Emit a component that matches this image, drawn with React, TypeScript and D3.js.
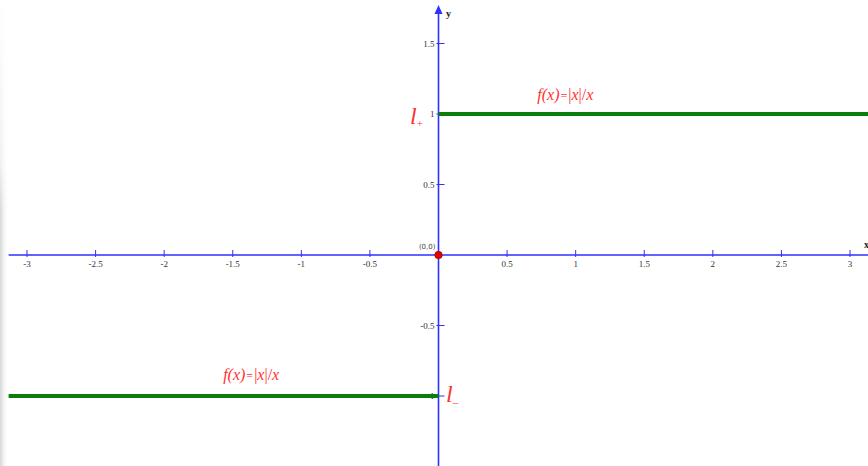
import React from "react";
import * as d3 from "d3";

const W = 868;
const H = 466;

// Axis ticks
const xTicks = [-3, -2.5, -2, -1.5, -1, -0.5, 0.5, 1, 1.5, 2, 2.5, 3];
const yTicks = [1.5, 1, 0.5, -0.5, -1];

// Visible window of the plane
const xDomain = [-3.134, 3.134];

// f(x) = |x|/x : two constant pieces
const pieceStart = [-3.134, 0];
const pieceEnd = [0, 3.134];
const pieceValue = [-1, 1];

// Annotations
const formulaX = [0.72, -1.57];
const formulaY = [1.1, -0.89];

const fmt = (v: number) => String(v);

export default function App() {
  const x = d3.scaleLinear().domain([-3, 3]).range([27, 850]);
  const y = d3.scaleLinear().domain([-1, 1]).range([396, 114]);
  const x0 = x(0);
  const y0 = y(0);
  const blue = "#2f2fff";
  const green = "#0a7d0a";
  const red = "#ff3030";
  const serif = "'Liberation Serif', 'DejaVu Serif', serif";

  const line = d3
    .line<[number, number]>()
    .x((d) => x(d[0]))
    .y((d) => y(d[1]));

  return (
    <svg
      width={W}
      height={H}
      style={{ position: "absolute", left: 0, top: 0, background: "#fff" }}
    >
      <defs>
        <linearGradient id="edge" x1="0" x2="1" y1="0" y2="0">
          <stop offset="0" stopColor="#d4d6d6" />
          <stop offset="1" stopColor="#ffffff" stopOpacity="0" />
        </linearGradient>
        <linearGradient id="edgeV" x1="0" x2="0" y1="0" y2="1">
          <stop offset="0" stopColor="#fff" stopOpacity="1" />
          <stop offset="0.35" stopColor="#fff" stopOpacity="0.6" />
          <stop offset="0.45" stopColor="#fff" stopOpacity="0" />
          <stop offset="1" stopColor="#fff" stopOpacity="0" />
        </linearGradient>
      </defs>
      <rect x={0} y={0} width={W} height={H} fill="#fff" />
      <rect x={0} y={0} width={9} height={H} fill="url(#edge)" />
      <rect x={0} y={0} width={9} height={H} fill="url(#edgeV)" />

      {/* x axis */}
      <line x1={x(xDomain[0])} x2={W} y1={y0} y2={y0} stroke={blue} strokeWidth={1.6} />
      {xTicks.map((t) => (
        <g key={"xt" + t}>
          <line x1={x(t)} x2={x(t)} y1={y0 - 5} y2={y0 + 2} stroke={blue} strokeWidth={1} />
          <text
            x={x(t)}
            y={y0 + 12}
            fontSize={9}
            fontFamily={serif}
            fill="#333"
            textAnchor="middle"
          >
            {fmt(t)}
          </text>
        </g>
      ))}
      <text x={864} y={248} fontSize={10} fontFamily={serif} fontWeight="bold" fill="#222">
        x
      </text>

      {/* y axis */}
      <line x1={x0} x2={x0} y1={10} y2={H} stroke={blue} strokeWidth={1.6} />
      <path
        d={`M${x0 - 4},${14} L${x0},${5} L${x0 + 4},${14} Z`}
        fill={blue}
      />
      {yTicks.map((t) => (
        <g key={"yt" + t}>
          <line x1={x0 - 2} x2={x0 + 6} y1={y(t)} y2={y(t)} stroke={blue} strokeWidth={1} />
          <text
            x={x0 - 4}
            y={y(t) + 3}
            fontSize={9}
            fontFamily={serif}
            fill="#333"
            textAnchor="end"
          >
            {fmt(t)}
          </text>
        </g>
      ))}
      <text x={446} y={17} fontSize={10} fontFamily={serif} fontWeight="bold" fill="#222">
        y
      </text>

      {/* graph of f */}
      {pieceValue.map((v, i) => (
        <path
          key={"p" + i}
          d={line([
            [pieceStart[i], v],
            [pieceEnd[i], v],
          ]) as string}
          stroke={green}
          strokeWidth={4}
          fill="none"
        />
      ))}

      {/* origin */}
      <text x={x0 - 3} y={y0 - 6} fontSize={7} fontFamily="'DejaVu Sans', sans-serif" fill="#444" textAnchor="end">
        (0,0)
      </text>
      <circle cx={x0} cy={y0} r={3.8} fill="#e00000" stroke="#b00000" strokeWidth={0.6} />

      {/* formula labels */}
      {formulaX.map((fx, i) => (
        <text
          key={"f" + i}
          x={x(fx)}
          y={y(formulaY[i])}
          fontSize={16}
          fontFamily={serif}
          fill={red}
          fontStyle="italic"
        >
          f(x)
          <tspan fontStyle="normal" fontSize={12} dx={1}>=</tspan>
          <tspan fontStyle="normal" dx={1}>|</tspan>
          <tspan>x</tspan>
          <tspan fontStyle="normal">|/</tspan>
          <tspan>x</tspan>
        </text>
      ))}

      {/* one-sided limit labels */}
      <text x={410} y={124} fontSize={24} fontFamily={serif} fontStyle="italic" fill={red}>
        l<tspan fontSize={11} dy={3} fontStyle="normal">+</tspan>
      </text>
      <text x={446} y={402} fontSize={24} fontFamily={serif} fontStyle="italic" fill={red}>
        l<tspan fontSize={11} dy={0} fontStyle="normal">_</tspan>
      </text>
    </svg>
  );
}
